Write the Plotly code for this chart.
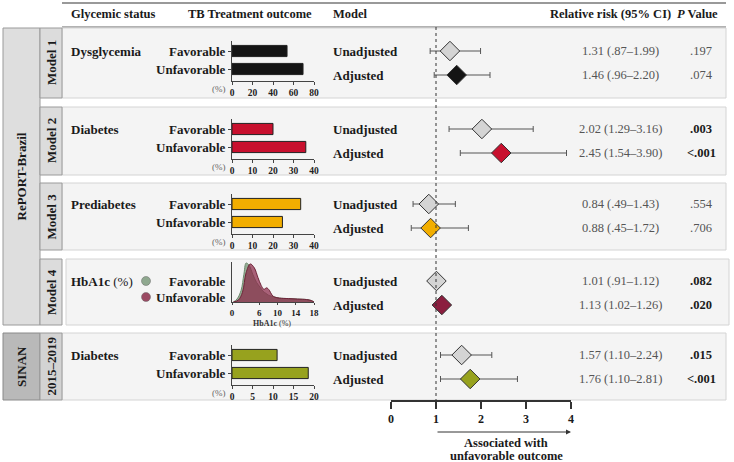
import plotly.graph_objects as go

W, H = 734, 462
SERIF = "Liberation Serif"

# ---------------- data ----------------
group_names = ["Dysglycemia", "Diabetes", "Prediabetes", "<b>HbA1c</b> (%)", "Diabetes"]
model_names = ["Model 1", "Model 2", "Model 3", "Model 4", "2015–2019"]
outcomes = ["Favorable", "Unfavorable"]
estimates = ["Unadjusted", "Adjusted"]

# TB treatment outcome (%) per glycemic group
pct_model1 = [53.7, 69.3]
pct_model2 = [20.0, 36.0]
pct_model3 = [33.5, 24.6]
pct_sinan = [11.0, 18.6]
pct_axis_max = [80, 40, 40, 20]
pct_axis_step = [20, 10, 10, 5]

# HbA1c (%) density
hba1c_fav_x = [0.3, 1.1, 2.0, 2.6, 3.1, 3.7, 4.6, 5.4, 6.2, 6.8, 7.4, 8.0, 8.6, 9.4, 10.4, 12.4, 14.4, 16.4, 17.4, 18.0]
hba1c_fav_d = [0.0, 0.03, 0.12, 0.28, 0.40, 0.38, 0.28, 0.20, 0.15, 0.11, 0.09, 0.07, 0.06, 0.05, 0.04, 0.035, 0.03, 0.025, 0.015, 0.0]
hba1c_unf_x = [0.3, 1.4, 2.3, 3.1, 4.0, 4.9, 5.7, 6.4, 7.0, 7.6, 8.2, 8.8, 9.4, 10.4, 12.4, 14.4, 16.4, 17.4, 18.0]
hba1c_unf_d = [0.0, 0.02, 0.10, 0.30, 0.39, 0.35, 0.25, 0.17, 0.13, 0.145, 0.12, 0.07, 0.05, 0.04, 0.035, 0.03, 0.025, 0.015, 0.0]
hba1c_ticks = [0, 6, 10, 14, 18]

# relative risk (95% CI), order: per model Unadjusted, Adjusted
rr_est = [1.31, 1.46, 2.02, 2.45, 0.84, 0.88, 1.01, 1.13, 1.57, 1.76]
rr_lo = [0.87, 0.96, 1.29, 1.54, 0.49, 0.45, 0.91, 1.02, 1.10, 1.10]
rr_hi = [1.99, 2.20, 3.16, 3.90, 1.43, 1.72, 1.12, 1.26, 2.24, 2.81]
p_text = [".197", ".074", ".003", "<.001", ".554", ".706", ".082", ".020", ".015", "<.001"]
p_bold = [False, False, True, True, False, False, True, True, True, True]
rr_ticks = [0, 1, 2, 3, 4]

# ---------------- layout helpers (pixels) ----------------
model_colors = ["#141414", "#c8102e", "#f2ae00", "#8b1e3f", "#97a21e"]
unadj_color = "#d4d4d4"
panel_top = [28, 107, 183, 259, 333]
panel_bot = [98, 175, 250, 325, 400]
row_y = [51, 129, 204, 281, 355]
BAR_X0, BAR_X1 = 232, 314
RR_X0, RR_X1 = 391, 571
RR_AXIS_Y = 401


def fx(p):
    return p / W


def fy(p):
    return 1 - p / H


fig = go.Figure()
axes = {
    "xaxis": dict(domain=[0, 1], range=[0, W], visible=False, automargin=False),
    "yaxis": dict(domain=[0, 1], range=[H, 0], visible=False, automargin=False),
}
annotations = []
shapes = []


def text(x, y, s, size=12.5, bold=True, color="#1a1a1a", xanchor="left", angle=0):
    annotations.append(dict(
        x=x, y=y, xref="x", yref="y", text=f"<b>{s}</b>" if bold else s,
        showarrow=False, xanchor=xanchor, yanchor="middle", textangle=angle,
        font=dict(family=SERIF, size=size, color=color),
    ))


def rect(x0, y0, x1, y1, fill, line):
    shapes.append(dict(type="rect", xref="x", yref="y", x0=x0, y0=y0, x1=x1, y1=y1,
                       fillcolor=fill, line=dict(color=line, width=1), layer="below"))


# frames
shapes.append(dict(type="line", xref="x", yref="y", x0=62, x1=726, y0=3, y1=3,
                   line=dict(color="#777", width=1.5), layer="below"))
shapes.append(dict(type="line", xref="x", yref="y", x0=62, x1=726, y0=27, y1=27,
                   line=dict(color="#999", width=1.5), layer="below"))
for i in range(5):
    x0, x1 = (66, 729) if i == 3 else (62, 726)
    rect(x0, panel_top[i], x1, panel_bot[i], "#f4f4f4", "#d4d4d4")
rect(3, 28, 40, 325, "#dedede", "#9a9a9a")
rect(3, 333, 40, 400, "#b9b9b9", "#8a8a8a")
for i in range(5):
    rect(40, panel_top[i], 62, panel_bot[i], "#d3d3d3" if i == 4 else "#dcdcdc", "#9a9a9a")
    text(51, (panel_top[i] + panel_bot[i]) / 2, model_names[i], size=13, xanchor="center", angle=-90)
text(21, (28 + 325) / 2, "RePORT-Brazil", size=13, xanchor="center", angle=-90)
text(21, 367, "SINAN", size=13, xanchor="center", angle=-90)

# headers
text(69, 14, "Glycemic status", size=12.5)
text(250, 14, "TB Treatment outcome", size=12.5, xanchor="center")
text(331, 14, "Model", size=12.5)
text(610, 14, "Relative risk (95% CI)", size=12.5, xanchor="center")
text(697, 14, "<i>P</i> Value", size=12.5, xanchor="center")

# bar panels
bar_sets = [(0, pct_model1), (1, pct_model2), (2, pct_model3), (4, pct_sinan)]
axis_ids = {0: 2, 1: 3, 2: 4, 3: 5, 4: 6}
for k, (i, vals) in enumerate(bar_sets):
    n = axis_ids[i]
    top, bot = row_y[i] - 10, row_y[i] + 18 + 12
    fig.add_trace(go.Bar(
        x=vals, y=outcomes, orientation="h", width=0.62,
        marker=dict(color=model_colors[i], line=dict(color="#222", width=1)),
        xaxis=f"x{n}", yaxis=f"y{n}", hoverinfo="x+y",
    ))
    xmax, step = pct_axis_max[k], pct_axis_step[k]
    axes[f"xaxis{n}"] = dict(
        domain=[fx(BAR_X0), fx(BAR_X1)], range=[0, xmax], anchor=f"y{n}", automargin=False,
        tickvals=list(range(0, xmax + 1, step)), ticks="outside", ticklen=3,
        tickcolor="#444", showline=True, linecolor="#444", showgrid=False, zeroline=False,
        tickfont=dict(family=SERIF, size=9.5, color="#222", weight="bold"),
    )
    axes[f"yaxis{n}"] = dict(
        domain=[fy(bot), fy(top)], range=[1 + 12 / 18, -10 / 18], anchor=f"x{n}",
        type="category", ticks="outside", ticklen=3, tickcolor="#444", automargin=False,
        showline=True, linecolor="#444", showgrid=False,
        tickfont=dict(family=SERIF, size=13, color="#1a1a1a", weight="bold"),
    )
    text(219, bot + 8, "(%)", size=9, bold=False, color="#666", xanchor="center")

# HbA1c density panel
fig.add_trace(go.Scatter(
    x=hba1c_fav_x, y=hba1c_fav_d, mode="lines", fill="tozeroy",
    line=dict(color="#6f8a6f", width=1), fillcolor="rgba(125,155,125,0.8)",
    xaxis="x5", yaxis="y5", line_shape="spline",
))
fig.add_trace(go.Scatter(
    x=hba1c_unf_x, y=hba1c_unf_d, mode="lines", fill="tozeroy",
    line=dict(color="#6e2438", width=1), fillcolor="rgba(139,40,72,0.72)",
    xaxis="x5", yaxis="y5", line_shape="spline",
))
axes["xaxis5"] = dict(
    domain=[fx(BAR_X0), fx(BAR_X1)], range=[0, 18], anchor="y5", tickvals=hba1c_ticks,
    ticks="outside", ticklen=2, tickcolor="#444", showline=True, linecolor="#444",
    showgrid=False, zeroline=False, automargin=False,
    tickfont=dict(family=SERIF, size=9, color="#222", weight="bold"),
)
axes["yaxis5"] = dict(
    domain=[fy(302), fy(262)], range=[0, 0.41], anchor="x5", showline=True, automargin=False,
    linecolor="#444", showticklabels=False, ticks="", showgrid=False, zeroline=False,
)
text(272, 323.5, "<b>HbA1c</b> (%)", size=8, bold=False, color="#333", xanchor="center")
fig.add_trace(go.Scatter(
    x=[146, 146], y=[281, 297], mode="markers", xaxis="x", yaxis="y",
    marker=dict(size=9, color=["#8fa88f", "#9b4a63"], line=dict(color="#666", width=0.5)),
    hoverinfo="skip",
))
text(228, 281, outcomes[0], size=13, xanchor="right")
text(228, 297, outcomes[1], size=13, xanchor="right")

# group / model labels and forest text
forest_y, forest_col = [], []
for i in range(5):
    text(69, row_y[i], group_names[i], size=13, bold=(i != 3))
    for j in range(2):
        idx = 2 * i + j
        y = row_y[i] + 24 * j
        forest_y.append(y)
        forest_col.append(unadj_color if j == 0 else model_colors[i])
        text(331, y, estimates[j], size=13)

        def f(v):
            s = f"{v:.2f}"
            return s[1:] if v < 1 else s
        text(620, y, f"{rr_est[idx]:.2f} ({f(rr_lo[idx])}–{f(rr_hi[idx])})",
             size=12.5, bold=False, color="#555", xanchor="center")
        text(701, y, p_text[idx], size=12.5, bold=p_bold[idx],
             color="#1a1a1a" if p_bold[idx] else "#555", xanchor="center")

# forest plot
fig.add_trace(go.Scatter(
    x=rr_est, y=forest_y, mode="markers", xaxis="x7", yaxis="y",
    marker=dict(symbol="diamond", size=15, color=forest_col, line=dict(color="#333", width=1)),
    error_x=dict(type="data", symmetric=False,
                 array=[h - e for h, e in zip(rr_hi, rr_est)],
                 arrayminus=[e - l for e, l in zip(rr_est, rr_lo)],
                 color="#555", thickness=1, width=3),
))
axes["xaxis7"] = dict(
    domain=[fx(RR_X0), fx(RR_X1)], range=[0, 4], anchor="free", position=fy(RR_AXIS_Y),
    tickvals=rr_ticks, ticks="outside", ticklen=7, tickwidth=1.5, tickcolor="#333",
    showline=True, linecolor="#333", linewidth=1.5, showgrid=False, zeroline=False,
    automargin=False,
    tickfont=dict(family=SERIF, size=12, color="#1a1a1a", weight="bold"),
)
shapes.append(dict(type="line", xref="x7", yref="y", x0=1, x1=1, y0=27, y1=RR_AXIS_Y,
                   line=dict(color="#333", width=1, dash="dot")))
annotations.append(dict(x=4, y=432, ax=1, ay=432, xref="x7", yref="y", axref="x7", ayref="y",
                        text="", showarrow=True, arrowhead=2, arrowsize=1, arrowwidth=1,
                        arrowcolor="#333"))
text(506, 443, "Associated with", size=12.5, xanchor="center")
text(506, 456, "unfavorable outcome", size=12.5, xanchor="center")

fig.update_layout(
    width=W, height=H, margin=dict(l=0, r=0, t=0, b=0, autoexpand=False),
    paper_bgcolor="white", plot_bgcolor="rgba(0,0,0,0)", showlegend=False,
    font=dict(family=SERIF), annotations=annotations, shapes=shapes, **axes,
)
fig.write_html("out.html", config={"displayModeBar": False},
               post_script="document.body.style.margin='0px';")
